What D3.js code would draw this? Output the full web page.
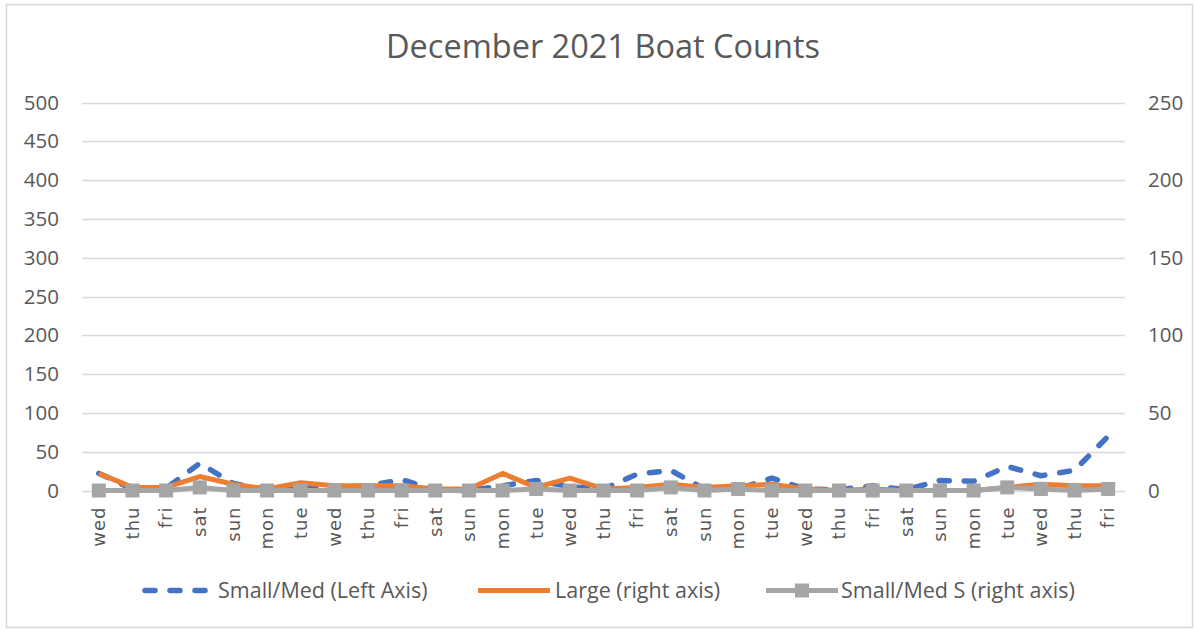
<!DOCTYPE html>
<html>
<head>
<meta charset="utf-8">
<script src="https://cdn.jsdelivr.net/npm/d3@7"></script>
<style>
  html, body { margin: 0; padding: 0; background: #fff; }
  svg { display: block; }
</style>
</head>
<body>
<svg id="chart" width="1194" height="630"></svg>
<script>
// Daily boat counts, 1–31 December 2021
const days = ["wed","thu","fri","sat","sun","mon","tue","wed","thu","fri","sat","sun","mon","tue","wed","thu","fri","sat","sun","mon","tue","wed","thu","fri","sat","sun","mon","tue","wed","thu","fri"];
const smallMed = [22, 2, 3, 35, 9, 1, 3, 3, 6, 14, 1, 0, 6, 13, 5, 2, 21, 26, 2, 2, 16, 2, 1, 6, 1, 13, 12, 31, 19, 26, 70];
const large = [11, 2, 2, 9, 4, 1, 5, 3, 3, 3, 1, 1, 11, 2, 8, 1, 2, 4, 2, 3, 4, 1, 0, 1, 0, 0, 0, 2, 4, 3, 3];
const smallMedS = [0, 0, 0, 2, 0, 0, 0, 0, 0, 0, 0, 0, 0, 1, 0, 0, 0, 2, 0, 1, 0, 0, 0, 0, 0, 0, 0, 2, 1, 0, 1];
const leftTicks = [0, 50, 100, 150, 200, 250, 300, 350, 400, 450, 500];
const rightTicks = [0, 50, 100, 150, 200, 250];
const seriesNames = ["Small/Med (Left Axis)", "Large (right axis)", "Small/Med S (right axis)"];

const BLUE = "#4472C4", ORANGE = "#ED7D31", GREY = "#A5A5A5", TEXT = "#595959", GRID = "#D9D9D9";
const FONT = "'Open Sans', sans-serif";

const svg = d3.select("#chart");

// outer chart frame
svg.append("rect")
  .attr("x", 6.5).attr("y", 4.5).attr("width", 1186).attr("height", 623)
  .attr("fill", "#fff").attr("stroke", GRID).attr("stroke-width", 1.5);

const plot = { left: 82, right: 1125, top: 102.5, bottom: 490.5 };

const x = d3.scaleBand().domain(d3.range(days.length)).range([plot.left, plot.right]);
const cx = i => x(i) + x.bandwidth() / 2;
const yL = d3.scaleLinear().domain([0, 500]).range([plot.bottom, plot.top]);
const yR = d3.scaleLinear().domain([0, 250]).range([plot.bottom, plot.top]);

// title
svg.append("text")
  .attr("x", 603).attr("y", 58)
  .attr("text-anchor", "middle")
  .attr("font-family", FONT).attr("font-size", 32.5)
  .attr("fill", TEXT)
  .text("December 2021 Boat Counts");

// horizontal gridlines
svg.append("g")
  .selectAll("line").data(leftTicks).join("line")
  .attr("x1", plot.left).attr("x2", plot.right)
  .attr("y1", d => Math.round(yL(d)) + 0.5).attr("y2", d => Math.round(yL(d)) + 0.5)
  .attr("stroke", GRID).attr("stroke-width", 1.3);

// left axis
const leftAxis = svg.append("g")
  .attr("transform", `translate(${plot.left},0)`)
  .call(d3.axisLeft(yL).tickValues(leftTicks).tickSize(0).tickPadding(23));
leftAxis.select(".domain").remove();
leftAxis.selectAll("text").attr("font-family", FONT).attr("font-size", 20.5).attr("fill", TEXT);

// right axis
const rightAxis = svg.append("g")
  .attr("transform", `translate(${plot.right},0)`)
  .call(d3.axisRight(yR).tickValues(rightTicks).tickSize(0).tickPadding(23));
rightAxis.select(".domain").remove();
rightAxis.selectAll("text").attr("font-family", FONT).attr("font-size", 20.5).attr("fill", TEXT);

// category axis, labels rotated
const bottomAxis = svg.append("g")
  .attr("transform", `translate(0,${plot.bottom})`)
  .call(d3.axisBottom(x).tickFormat(i => days[i]).tickSize(0));
bottomAxis.select(".domain").remove();
bottomAxis.selectAll("text")
  .attr("font-family", "'DejaVu Sans', sans-serif").attr("font-size", 18)
  .attr("letter-spacing", 1)
  .attr("fill", TEXT)
  .attr("text-anchor", "end")
  .attr("dy", "0.35em")
  .attr("transform", "translate(0,16) rotate(-90)")
  .attr("x", 0).attr("y", 0);

// series lines
const lineL = d3.line().x((d, i) => cx(i)).y(d => yL(d));
const lineR = d3.line().x((d, i) => cx(i)).y(d => yR(d));

svg.append("path").datum(smallMed)
  .attr("d", lineL).attr("fill", "none")
  .attr("stroke", BLUE).attr("stroke-width", 5.5)
  .attr("stroke-linecap", "round").attr("stroke-linejoin", "round")
  .attr("stroke-dasharray", "10,15");

svg.append("path").datum(large)
  .attr("d", lineR).attr("fill", "none")
  .attr("stroke", ORANGE).attr("stroke-width", 5)
  .attr("stroke-linejoin", "round");

svg.append("path").datum(smallMedS)
  .attr("d", lineR).attr("fill", "none")
  .attr("stroke", GREY).attr("stroke-width", 5)
  .attr("stroke-linejoin", "round");

const MS = 14;
svg.append("g").selectAll("rect").data(smallMedS).join("rect")
  .attr("x", (d, i) => cx(i) - MS / 2).attr("y", d => yR(d) - MS / 2)
  .attr("width", MS).attr("height", MS)
  .attr("fill", GREY);

// legend
const legY = 590.5;
const legend = svg.append("g");
legend.append("line")
  .attr("x1", 145).attr("x2", 205).attr("y1", legY).attr("y2", legY)
  .attr("stroke", BLUE).attr("stroke-width", 5.5)
  .attr("stroke-linecap", "round").attr("stroke-dasharray", "10,15");
legend.append("line")
  .attr("x1", 478).attr("x2", 550).attr("y1", legY).attr("y2", legY)
  .attr("stroke", ORANGE).attr("stroke-width", 5);
legend.append("line")
  .attr("x1", 766).attr("x2", 838).attr("y1", legY).attr("y2", legY)
  .attr("stroke", GREY).attr("stroke-width", 5);
legend.append("rect")
  .attr("x", 802 - MS / 2).attr("y", legY - MS / 2).attr("width", MS).attr("height", MS)
  .attr("fill", GREY);
const legX = [218, 555, 841];
legend.selectAll("text").data(seriesNames).join("text")
  .attr("x", (d, i) => legX[i]).attr("y", legY)
  .attr("dy", "0.35em")
  .attr("font-family", FONT).attr("font-size", 21.5)
  .attr("fill", TEXT)
  .text(d => d);
</script>
</body>
</html>
